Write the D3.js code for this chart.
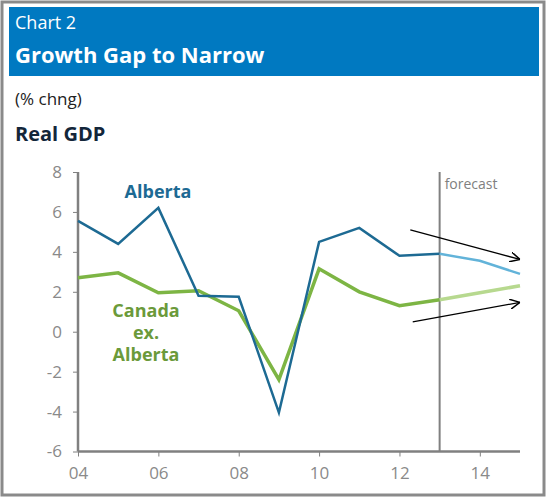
<!DOCTYPE html>
<html><head><meta charset="utf-8">
<script src="https://cdn.jsdelivr.net/npm/d3@7"></script>
<style>body{margin:0;background:#fff}svg{display:block}</style>
</head><body>
<script>
const years = [2004,2005,2006,2007,2008,2009,2010,2011,2012,2013,2014,2015];
const alberta = [5.55,4.4,6.2,1.8,1.75,-4.05,4.5,5.2,3.8,3.9,3.55,2.9];
const canadaEx = [2.7,2.95,1.95,2.05,1.05,-2.4,3.15,2.0,1.3,1.6,1.95,2.3];
const forecastStart = 2013;
const xTicks = [2004,2006,2008,2010,2012,2014];
const yTicks = [-6,-4,-2,0,2,4,6,8];
const arrows = [
  {x1:2012.27,y1:5.1,x2:2015.0,y2:3.62},
  {x1:2012.33,y1:0.49,x2:2015.0,y2:1.47}
];

const W=547,H=498;
const svg=d3.select("body").append("svg").attr("width",W).attr("height",H);
const font="'Open Sans', sans-serif";

svg.append("rect").attr("x",2).attr("y",2).attr("width",W-5).attr("height",H-5)
  .attr("fill","#fff").attr("stroke","#8a8a8a").attr("stroke-width",3);
svg.append("rect").attr("x",9).attr("y",7).attr("width",530).attr("height",69).attr("fill","#0079c1");
svg.append("text").attr("x",15).attr("y",29).attr("fill","#fff").attr("font-family",font)
  .attr("font-size",18).text("Chart 2");
svg.append("text").attr("x",15).attr("y",63).attr("fill","#fff").attr("font-family",font)
  .attr("font-weight","bold").attr("font-size",22).text("Growth Gap to Narrow");
svg.append("text").attr("x",15).attr("y",105).attr("fill","#222").attr("font-family",font)
  .attr("font-size",17).text("(% chng)");
svg.append("text").attr("x",15).attr("y",141).attr("fill","#13263a").attr("font-family",font)
  .attr("font-weight","bold").attr("font-size",20).text("Real GDP");

const x=d3.scaleLinear().domain([2004,2015]).range([78,520]);
const y=d3.scaleLinear().domain([-6,8]).range([451.5,172]);
const gray="#808080";

const xa=svg.append("g").attr("transform","translate(0,451.5)")
  .call(d3.axisBottom(x).tickValues(xTicks).tickSize(5).tickPadding(10)
    .tickFormat(d=>String(d%100).padStart(2,"0")));
const ya=svg.append("g").attr("transform","translate(78,0)")
  .call(d3.axisLeft(y).tickValues(yTicks).tickSize(5).tickPadding(11).tickFormat(d=>String(d)));
[xa,ya].forEach(a=>{
  a.select(".domain").attr("stroke",gray).attr("stroke-width",2.5);
  a.selectAll(".tick line").attr("stroke",gray).attr("stroke-width",1);
  a.selectAll("text").attr("fill","#8a8a8a").attr("font-family",font).attr("font-size",17);
});
xa.select(".domain").attr("d",`M78,0H520`);
ya.select(".domain").attr("d",`M0,${y(8)}V451.5`);

// forecast line
svg.append("line").attr("x1",x(forecastStart)).attr("x2",x(forecastStart))
  .attr("y1",y(8)).attr("y2",451.5).attr("stroke",gray).attr("stroke-width",2);
svg.append("text").attr("x",x(forecastStart)+5).attr("y",189).attr("fill",gray)
  .attr("font-family",font).attr("font-size",14).text("forecast");

const line=d3.line().x(d=>x(d[0])).y(d=>y(d[1]));
function drawSeries(vals,cHist,cFc,w){
  const pts=years.map((yr,i)=>[yr,vals[i]]);
  const fi=years.indexOf(forecastStart);
  svg.append("path").datum(pts.slice(0,fi+1)).attr("d",line).attr("fill","none")
    .attr("stroke",cHist).attr("stroke-width",w).attr("stroke-linejoin","miter");
  svg.append("path").datum(pts.slice(fi)).attr("d",line).attr("fill","none")
    .attr("stroke",cFc).attr("stroke-width",w);
}
drawSeries(canadaEx,"#7db544","#b7d98f",3.5);
drawSeries(alberta,"#1d6a93","#62b3d9",2.5);

svg.append("defs").append("marker").attr("id","ah").attr("viewBox","0 0 10 10")
  .attr("refX",10).attr("refY",5).attr("markerWidth",10).attr("markerHeight",10)
  .attr("markerUnits","userSpaceOnUse").attr("orient","auto")
  .append("path").attr("d","M0,0L10,5L0,10").attr("fill","none").attr("stroke","#000").attr("stroke-width",1.5);
svg.selectAll(".arr").data(arrows).join("line").attr("class","arr")
  .attr("x1",d=>x(d.x1)).attr("y1",d=>y(d.y1)).attr("x2",d=>x(d.x2)).attr("y2",d=>y(d.y2))
  .attr("stroke","#000").attr("stroke-width",1.3).attr("marker-end","url(#ah)");

svg.append("text").attr("x",158).attr("y",198).attr("text-anchor","middle")
  .attr("fill","#1d6a93").attr("font-family",font).attr("font-weight","bold").attr("font-size",18).text("Alberta");
const ct=svg.append("text").attr("text-anchor","middle").attr("fill","#6b9a3a")
  .attr("font-family",font).attr("font-weight","bold").attr("font-size",18);
["Canada","ex.","Alberta"].forEach((t,i)=>ct.append("tspan").attr("x",146).attr("y",317+i*22).text(t));
</script>
</body></html>
